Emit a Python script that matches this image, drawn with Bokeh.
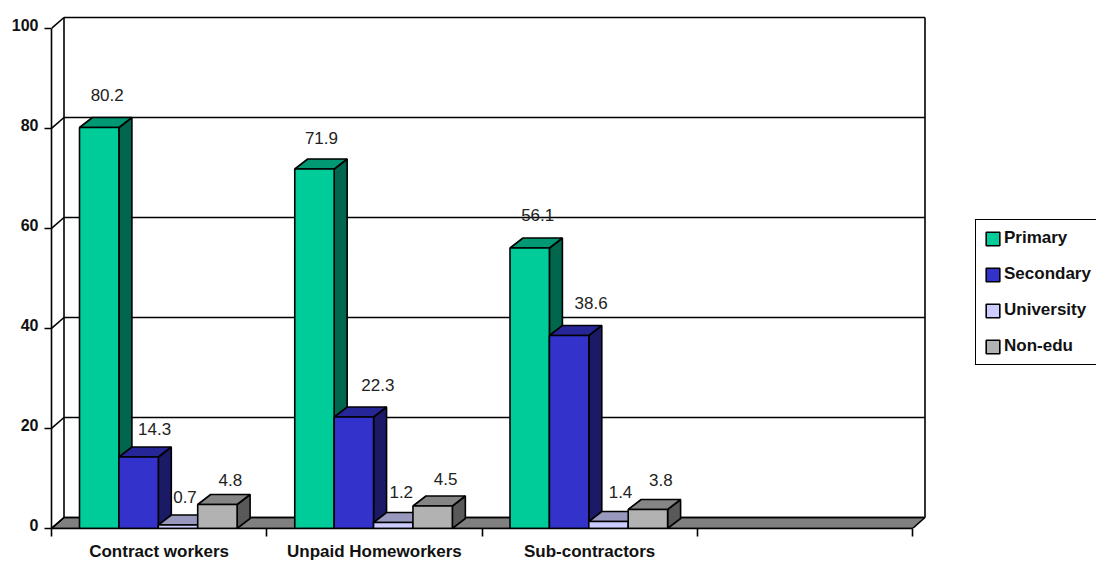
from bokeh.plotting import figure
from bokeh.models import ColumnDataSource, FixedTicker, Legend, LegendItem, Range1d
from bokeh.core.properties import value
from bokeh.embed import file_html
from bokeh.resources import INLINE

categories = ["Contract workers", "Unpaid Homeworkers", "Sub-contractors", ""]
series_names = ["Primary", "Secondary", "University", "Non-edu"]
primary = [80.2, 71.9, 56.1]
secondary = [14.3, 22.3, 38.6]
university = [0.7, 1.2, 1.4]
non_edu = [4.8, 4.5, 3.8]
y_ticks = [0, 20, 40, 60, 80, 100]

front_colors = ["#00CC99", "#3333CC", "#CCCCFF", "#B2B2B2"]
top_colors = ["#009973", "#262699", "#9999BF", "#858585"]
side_colors = ["#00664D", "#1A1A66", "#666680", "#595959"]

SLOT = 215.25          # px per category slot
UNIT = 5.0             # px per value unit
W, H = 1096, 563
LEFT, BOTTOM = 51, 35
FRAME_W, FRAME_H = W - LEFT, H - BOTTOM
LINE = 1.6
FONT = "Liberation Sans"

p = figure(width=W, height=H, output_backend="svg", toolbar_location=None,
           x_range=Range1d(0, FRAME_W / SLOT), y_range=Range1d(0, FRAME_H / UNIT),
           min_border_left=LEFT, min_border_right=0,
           min_border_top=0, min_border_bottom=BOTTOM,
           background_fill_color="white", border_fill_color="white")
p.outline_line_color = None
p.grid.visible = False

# depth of the 3-D box, converted to data units
wall_dx, wall_dy = 12.5 / SLOT, 11 / UNIT
bar_dx, bar_dy = 13 / SLOT, 10 / UNIT
n_slots = len(categories)

# floor
p.patch([0, n_slots, n_slots + wall_dx, wall_dx], [0, 0, wall_dy, wall_dy],
        fill_color="#808080", line_color="black", line_width=LINE)
# walls and gridlines
top = y_ticks[-1] + wall_dy
p.segment([wall_dx] * len(y_ticks), [v + wall_dy for v in y_ticks],
          [n_slots + wall_dx] * len(y_ticks), [v + wall_dy for v in y_ticks],
          line_color="black", line_width=LINE)
p.segment([0] * len(y_ticks), y_ticks, [wall_dx] * len(y_ticks), [v + wall_dy for v in y_ticks],
          line_color="black", line_width=LINE)
p.segment([wall_dx, n_slots + wall_dx], [wall_dy, wall_dy], [wall_dx, n_slots + wall_dx], [top, top],
          line_color="black", line_width=LINE)

# 3-D bars
GROUP_START, BAR_W = 28 / SLOT, 39.4 / SLOT
all_series = [primary, secondary, university, non_edu]
legend_items = []
for s, vals in enumerate(all_series):
    lefts = [c + GROUP_START + s * BAR_W for c in range(len(vals))]
    rights = [l + BAR_W for l in lefts]
    p.patches([[r, r + bar_dx, r + bar_dx, r] for r in rights],
              [[0, bar_dy, v + bar_dy, v] for v in vals],
              fill_color=side_colors[s], line_color="black", line_width=LINE)
    p.patches([[l, r, r + bar_dx, l + bar_dx] for l, r in zip(lefts, rights)],
              [[v, v, v + bar_dy, v + bar_dy] for v in vals],
              fill_color=top_colors[s], line_color="black", line_width=LINE)
    q = p.quad(left=lefts, right=rights, bottom=[0] * len(vals), top=vals,
               fill_color=front_colors[s], line_color="black", line_width=LINE)
    legend_items.append(LegendItem(label=value(series_names[s]), renderers=[q]))

# data labels: pixel offsets of each label from its bar-top centre
label_dx = [[8, 7, 8], [16, 24, 22], [7, 8, 12], [13, 13, 13]]
label_dy = [[33, 31, 33], [28, 32, 33], [28, 31, 30], [25, 27, 30]]
xs, ys, txt, ox, oy = [], [], [], [], []
for s, vals in enumerate(all_series):
    for c, v in enumerate(vals):
        xs.append(c + GROUP_START + (s + 0.5) * BAR_W)
        ys.append(v)
        txt.append(f"{v:.1f}")
        ox.append(label_dx[s][c])
        oy.append(-label_dy[s][c])
src = ColumnDataSource(dict(x=xs, y=ys, t=txt, ox=ox, oy=oy))
p.text("x", "y", text="t", source=src, x_offset="ox", y_offset="oy",
       text_align="center", text_baseline="middle", text_color="#222222",
       text_font=value(FONT), text_font_size="17px")

# axes: labels are raised 4px above their tick marks, as in the reference
ya = p.yaxis[0]
label_raise = 4 / UNIT
ylabel_pos = [v + label_raise for v in y_ticks]
ya.ticker = FixedTicker(ticks=ylabel_pos, minor_ticks=y_ticks)
ya.major_label_overrides = {pos: str(v) for pos, v in zip(ylabel_pos, y_ticks)}
ya.bounds = (0, y_ticks[-1])
ya.axis_line_color = "black"
ya.axis_line_width = LINE
ya.major_tick_out = ya.major_tick_in = 0
ya.minor_tick_line_color = "black"
ya.minor_tick_line_width = LINE
ya.minor_tick_out, ya.minor_tick_in = 7, 0
ya.major_label_standoff = 6
ya.major_label_text_font = FONT
ya.major_label_text_font_style = "bold"
ya.major_label_text_font_size = "16px"
ya.major_label_text_color = "#111111"

xa = p.xaxis[0]
label_pos = [c + 0.5 for c in range(n_slots)]
xa.ticker = FixedTicker(ticks=label_pos, minor_ticks=list(range(n_slots + 1)))
xa.major_label_overrides = {pos: name for pos, name in zip(label_pos, categories)}
xa.bounds = (0, n_slots)
xa.axis_line_color = "black"
xa.axis_line_width = LINE
xa.major_tick_out = xa.major_tick_in = 0
xa.minor_tick_line_color = "black"
xa.minor_tick_line_width = LINE
xa.minor_tick_out, xa.minor_tick_in = 8, 0
xa.major_label_standoff = 5
xa.major_label_text_font = FONT
xa.major_label_text_font_style = "bold"
xa.major_label_text_font_size = "17px"
xa.major_label_text_color = "#111111"

legend = Legend(items=legend_items, location=(924, 163), orientation="vertical",
                glyph_width=17, glyph_height=17, label_height=15, label_standoff=3,
                spacing=16, padding=8, margin=0,
                border_line_color="black", border_line_alpha=1, border_line_width=LINE,
                background_fill_color="white", background_fill_alpha=1,
                label_text_font=FONT, label_text_font_style="bold",
                label_text_font_size="17px", label_text_color="#111111")
p.add_layout(legend, "center")

open("out.html", "w").write(file_html(p, INLINE))
